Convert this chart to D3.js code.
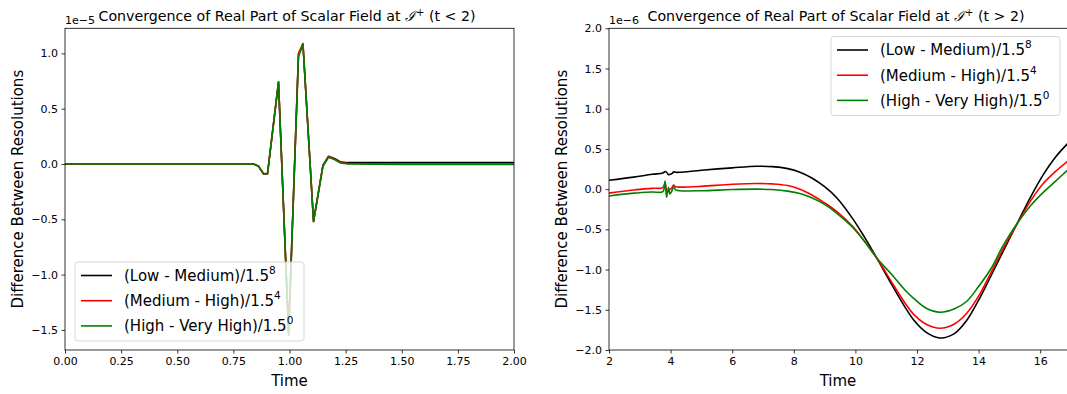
<!DOCTYPE html>
<html>
<head>
<meta charset="utf-8">
<script src="https://cdn.jsdelivr.net/npm/d3@7/dist/d3.min.js"></script>
<style>
  html, body { margin: 0; padding: 0; background: #fff; }
  svg { display: block; font-family: "DejaVu Sans", sans-serif; }
</style>
</head>
<body>
<svg id="chart" width="1067" height="394"></svg>
<script>
// ---------- DATA ----------
const seriesNames = ["(Low - Medium)/1.5", "(Medium - High)/1.5", "(High - Very High)/1.5"];
const seriesExps = ["8", "4", "0"];
const seriesColors = ["#000000", "#ff0000", "#008000"];

// Left panel (t < 2), values in units of 1e-5
const leftTime = [0, 0.5, 0.84, 0.862, 0.884, 0.902, 0.951, 0.996, 1.04, 1.06, 1.107, 1.149, 1.174, 1.2, 1.226, 1.26, 1.5, 2.0];
const leftLow  = [0, 0, 0, -0.02, -0.09, -0.09, 0.74, -1.52, 0.99, 1.08, -0.52, -0.01, 0.07, 0.05, 0.02, 0.012, 0.012, 0.012];
const leftMed  = [0, 0, 0, -0.02, -0.088, -0.088, 0.74, -1.53, 1.0, 1.09, -0.52, -0.015, 0.065, 0.045, 0.015, 0.005, 0.0, 0.0];
const leftHigh = [0, 0, 0, -0.02, -0.085, -0.087, 0.744, -1.55, 0.97, 1.085, -0.52, -0.02, 0.06, 0.04, 0.01, 0.0, -0.005, -0.005];
const leftXTicks = [0, 0.25, 0.5, 0.75, 1.0, 1.25, 1.5, 1.75, 2.0];
const leftYTicks = [-1.5, -1.0, -0.5, 0.0, 0.5, 1.0];

// Right panel (t > 2), values in units of 1e-6
const rightTime = [2.0, 2.8, 3.4, 3.75, 3.82, 3.87, 3.93, 3.98, 4.03, 4.1, 4.16, 4.3, 5.0, 6.0, 6.8, 7.3, 7.8, 8.2, 8.6, 9.0, 9.4, 9.9, 10.3, 10.7, 11.2, 11.6, 11.9, 12.3, 12.75, 13.2, 13.6, 14.0, 14.4, 14.8, 15.3, 15.7, 16.1, 16.5, 16.9];
const rightLow  = [0.11, 0.15, 0.185, 0.20, 0.22, 0.21, 0.18, 0.185, 0.19, 0.215, 0.21, 0.21, 0.235, 0.265, 0.285, 0.28, 0.255, 0.21, 0.135, 0.03, -0.11, -0.36, -0.60, -0.86, -1.20, -1.46, -1.63, -1.78, -1.85, -1.80, -1.64, -1.38, -1.08, -0.77, -0.39, -0.09, 0.18, 0.40, 0.57];
const rightMed  = [-0.05, -0.01, 0.01, 0.02, 0.08, -0.02, -0.03, 0.0, 0.01, 0.05, 0.03, 0.025, 0.035, 0.06, 0.07, 0.065, 0.045, 0.0, -0.075, -0.17, -0.28, -0.46, -0.65, -0.86, -1.17, -1.41, -1.56, -1.68, -1.73, -1.68, -1.55, -1.33, -1.04, -0.74, -0.40, -0.14, 0.07, 0.22, 0.35];
const rightHigh = [-0.085, -0.05, -0.035, -0.03, 0.1, -0.1, 0.02, -0.06, -0.03, 0.03, -0.01, -0.02, -0.02, -0.005, 0.0, -0.005, -0.025, -0.055, -0.11, -0.19, -0.30, -0.47, -0.65, -0.86, -1.07, -1.25, -1.36, -1.48, -1.53, -1.49, -1.40, -1.21, -0.99, -0.70, -0.40, -0.20, -0.04, 0.10, 0.24];
const rightXTicks = [2, 4, 6, 8, 10, 12, 14, 16];
const rightYTicks = [-2.0, -1.5, -1.0, -0.5, 0.0, 0.5, 1.0, 1.5, 2.0];

const titleLeft = "Convergence of Real Part of Scalar Field at ";
const titleLeftTail = "  (t < 2)";
const titleRightTail = "  (t > 2)";
const yLabel = "Difference Between Resolutions";
const xLabel = "Time";

// ---------- DRAW ----------
const svg = d3.select("#chart");
svg.append("rect").attr("width", 1067).attr("height", 394).attr("fill", "#fff");

function panel(opts) {
  const { left, right, top, bottom, xDomain, yDomain, xTicks, yTicks, xFmt, yFmt,
          time, series, curve, titleTail, titleCx, offsetText, legendPos, ylabX, xlabCx, clipId } = opts;
  const x = d3.scaleLinear().domain(xDomain).range([left, right]);
  const y = d3.scaleLinear().domain(yDomain).range([bottom, top]);
  const g = svg.append("g");

  g.append("clipPath").attr("id", clipId).append("rect")
    .attr("x", left).attr("y", top).attr("width", right - left).attr("height", bottom - top);

  const line = d3.line().x(d => x(d[0])).y(d => y(d[1])).curve(curve);
  const lines = g.append("g").attr("clip-path", `url(#${clipId})`);
  series.forEach((vals, i) => {
    lines.append("path")
      .attr("d", line(time.map((t, k) => [t, vals[k]])))
      .attr("fill", "none").attr("stroke", seriesColors[i]).attr("stroke-width", 1.6)
      .attr("stroke-linejoin", "round");
  });

  // axes
  const xAxis = d3.axisBottom(x).tickValues(xTicks).tickFormat(xFmt).tickSize(3.5).tickPadding(3.5);
  const yAxis = d3.axisLeft(y).tickValues(yTicks).tickFormat(yFmt).tickSize(3.5).tickPadding(3.5);
  const gx = g.append("g").attr("transform", `translate(0,${bottom})`).call(xAxis);
  const gy = g.append("g").attr("transform", `translate(${left},0)`).call(yAxis);
  [gx, gy].forEach(a => {
    a.select(".domain").remove();
    a.selectAll("text").attr("font-size", 11).attr("font-family", "DejaVu Sans").attr("fill", "#000");
    a.selectAll("line").attr("stroke", "#000").attr("stroke-width", 0.8);
  });
  // spines
  g.append("rect").attr("x", left).attr("y", top).attr("width", right - left).attr("height", bottom - top)
    .attr("fill", "none").attr("stroke", "#000").attr("stroke-width", 0.8);

  // offset text
  g.append("text").attr("x", left).attr("y", top - 4).attr("font-size", 11).text(offsetText);

  // title
  const t = g.append("text").attr("x", titleCx).attr("y", 21).attr("text-anchor", "middle").attr("font-size", 14.2);
  t.append("tspan").text(titleLeft);
  t.append("tspan").attr("font-style", "italic").attr("font-family", "DejaVu Serif").text("\u2110");
  t.append("tspan").attr("dy", -5).attr("font-size", 10).text("+");
  t.append("tspan").attr("dy", 5).text(titleTail);

  // labels
  g.append("text").attr("x", xlabCx).attr("y", 386).attr("text-anchor", "middle")
    .attr("font-size", 15).text(xLabel);
  g.append("text").attr("transform", `translate(${ylabX},${(top + bottom) / 2}) rotate(-90)`)
    .attr("text-anchor", "middle").attr("font-size", 15).text(yLabel);

  // legend
  const lg = g.append("g").attr("transform", `translate(${legendPos[0]},${legendPos[1]})`);
  lg.append("rect").attr("x", 0).attr("y", 0).attr("width", legendPos[2]).attr("height", 79).attr("rx", 3)
    .attr("fill", "#fff").attr("fill-opacity", 0.8).attr("stroke", "#cccccc").attr("stroke-width", 0.8);
  seriesNames.forEach((nm, i) => {
    const yy = 13.5 + i * 25.2;
    lg.append("line").attr("x1", 6).attr("x2", 37).attr("y1", yy).attr("y2", yy)
      .attr("stroke", seriesColors[i]).attr("stroke-width", 1.6);
    const tx = lg.append("text").attr("x", 49).attr("y", yy + 5.3).attr("font-size", 15).text(nm);
    tx.append("tspan").attr("dy", -7).attr("font-size", 10.5).text(seriesExps[i]);
  });
}

// left panel: 0.0 at y=164, 110.6 px per unit
panel({
  left: 65, right: 514, top: 28.3, bottom: 350,
  xDomain: [0, 2], yDomain: [-(350 - 164) / 110.6, (164 - 28.3) / 110.6],
  xTicks: leftXTicks, yTicks: leftYTicks,
  xFmt: d3.format(".2f"), yFmt: d => d3.format(".1f")(d).replace("-", "\u2212"),
  time: leftTime, series: [leftLow, leftMed, leftHigh], curve: d3.curveLinear,
  titleTail: titleLeftTail, titleCx: 287, offsetText: "1e\u22125",
  legendPos: [75, 262, 229], ylabX: 23, xlabCx: 289.5, clipId: "clipL"
});

// right panel: 2 at x=609, 30.8 px per unit
panel({
  left: 609, right: 1068, top: 28.3, bottom: 350,
  xDomain: [2, 2 + (1068 - 609) / 30.8], yDomain: [-2, 2],
  xTicks: rightXTicks, yTicks: rightYTicks,
  xFmt: d3.format("d"), yFmt: d => d3.format(".1f")(d).replace("-", "\u2212"),
  time: rightTime, series: [rightLow, rightMed, rightHigh], curve: d3.curveCatmullRom.alpha(0.5),
  titleTail: titleRightTail, titleCx: 836, offsetText: "1e\u22126",
  legendPos: [831, 36.5, 229], ylabX: 567, xlabCx: 838, clipId: "clipR"
});
</script>
</body>
</html>
